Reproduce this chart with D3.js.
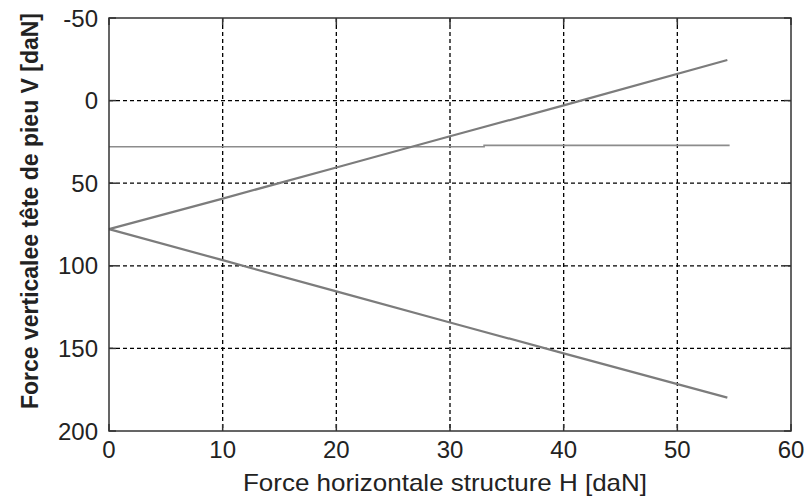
<!DOCTYPE html>
<html><head><meta charset="utf-8">
<script src="https://cdn.jsdelivr.net/npm/d3@7"></script>
<style>body{margin:0;background:#fff}svg{display:block}text{font-family:"Liberation Sans",Arial,sans-serif;fill:#222}</style>
</head><body>
<svg id="c" width="806" height="504"></svg>
<script>
const xTicks = [0, 10, 20, 30, 40, 50, 60];
const yTicks = [-50, 0, 50, 100, 150, 200];
const upperH = [0, 10, 20, 30, 40, 54.4];
const upperV = [77.8, 59.3, 40.5, 21.6, 2.9, -24.6];
const lowerH = [0, 10, 20, 30, 40, 54.4];
const lowerV = [77.8, 96.6, 115.5, 134.3, 153.0, 179.8];
const flatH = [0, 33, 33, 54.6];
const flatV = [27.9, 27.9, 27.1, 27.1];
const xLabel = "Force horizontale structure H [daN]";
const yLabel = "Force verticalee tête de pieu V [daN]";

const svg = d3.select("#c");
const L = 109, R = 791, T = 18, B = 431;
const x = d3.scaleLinear().domain([0, 60]).range([L, R]);
const y = d3.scaleLinear().domain([-50, 200]).range([T, B]);

// grid
const g = svg.append("g");
g.selectAll(".gx").data(xTicks.slice(1, -1)).join("line")
  .attr("x1", d => x(d)).attr("x2", d => x(d)).attr("y1", T).attr("y2", B)
  .attr("stroke", "#000").attr("stroke-width", 1.3).attr("stroke-dasharray", "4,3");
g.selectAll(".gy").data(yTicks.slice(1, -1)).join("line")
  .attr("x1", L).attr("x2", R).attr("y1", d => y(d)).attr("y2", d => y(d))
  .attr("stroke", "#000").attr("stroke-width", 1.3).attr("stroke-dasharray", "4,3");

// inward ticks
const tl = 7;
const ax = svg.append("g").attr("stroke", "#333").attr("stroke-width", 1.5);
xTicks.forEach(d => {
  ax.append("line").attr("x1", x(d)).attr("x2", x(d)).attr("y1", B).attr("y2", B - tl);
  ax.append("line").attr("x1", x(d)).attr("x2", x(d)).attr("y1", T).attr("y2", T + tl);
});
yTicks.forEach(d => {
  ax.append("line").attr("x1", L).attr("x2", L + tl).attr("y1", y(d)).attr("y2", y(d));
  ax.append("line").attr("x1", R).attr("x2", R - tl).attr("y1", y(d)).attr("y2", y(d));
});

// data lines
const line = d3.line().x(d => x(d[0])).y(d => y(d[1]));
svg.append("path").datum(flatH.map((h, i) => [h, flatV[i]]))
  .attr("d", line).attr("fill", "none").attr("stroke", "#8c8c8c").attr("stroke-width", 1.6);
svg.append("path").datum(upperH.map((h, i) => [h, upperV[i]]))
  .attr("d", line).attr("fill", "none").attr("stroke", "#7c7c7c").attr("stroke-width", 2.2);
svg.append("path").datum(lowerH.map((h, i) => [h, lowerV[i]]))
  .attr("d", line).attr("fill", "none").attr("stroke", "#7c7c7c").attr("stroke-width", 2.2);

// box
svg.append("rect").attr("x", L).attr("y", T).attr("width", R - L).attr("height", B - T)
  .attr("fill", "none").attr("stroke", "#333").attr("stroke-width", 1.5);

// tick labels
svg.selectAll(".xl").data(xTicks).join("text")
  .attr("x", d => x(d)).attr("y", 458).attr("text-anchor", "middle")
  .attr("font-size", 24).text(d => d);
svg.selectAll(".yl").data(yTicks).join("text")
  .attr("x", 98).attr("y", d => y(d) + 8.5).attr("text-anchor", "end")
  .attr("font-size", 24).text(d => d);

// axis titles
svg.append("text").attr("x", 445).attr("y", 491).attr("text-anchor", "middle")
  .attr("font-size", 24).attr("textLength", 404).attr("lengthAdjust", "spacingAndGlyphs")
  .text(xLabel);
svg.append("text").attr("transform", "translate(38,211) rotate(-90) scale(1,1.12)").attr("text-anchor", "middle")
  .attr("font-size", 22).attr("font-weight", "bold")
  .attr("textLength", 396).attr("lengthAdjust", "spacingAndGlyphs").text(yLabel);
</script>
</body></html>
